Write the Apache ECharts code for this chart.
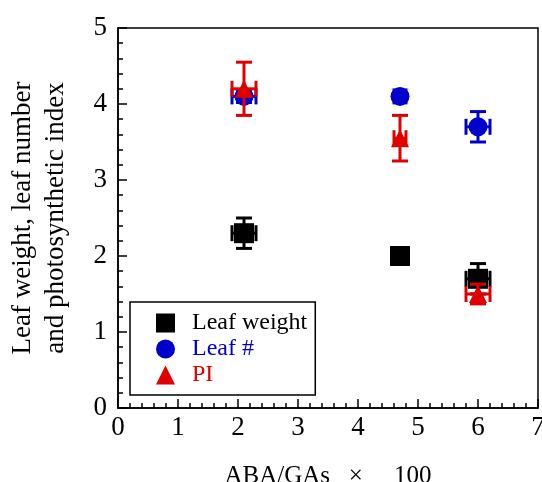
<!DOCTYPE html>
<html>
<head>
<meta charset="utf-8">
<script src="https://cdn.jsdelivr.net/npm/echarts@6/dist/echarts.min.js"></script>
<style>
  html, body { margin: 0; padding: 0; background: #fff; }
  #chart { width: 542px; height: 482px; }
</style>
</head>
<body>
<div id="chart"></div>
<script>
// x positions (ABA/GAs x 100)
const xVals = [2.1, 4.7, 6.0]

// Leaf weight
const leafWeight = [2.3, 2.0, 1.7]
const leafWeightYErr = [0.2, 0, 0.2]
const leafWeightXErr = [0.2, 0, 0.2]

// Leaf #
const leafNumber = [4.1, 4.1, 3.7]
const leafNumberYErr = [0.08, 0, 0.2]
const leafNumberXErr = [0.2, 0.1, 0.2]

// PI
const photoIndex = [4.2, 3.55, 1.5]
const photoIndexYErr = [0.35, 0.3, 0.13]
const photoIndexXErr = [0.2, 0.1, 0.2]

const serif = 'Liberation Serif, DejaVu Serif, serif'
const BLACK = '#000000'
const BLUE = '#0000cc'
const RED = '#e00000'

function points (ys) {
  return xVals.map((x, i) => [x, ys[i]])
}

function errPoints (ys, xe, ye) {
  return xVals.map((x, i) => [x, ys[i], xe[i], ye[i]])
}

// draws x and y error bars with caps
function errorRender (color) {
  return function (params, api) {
    const x = api.value(0)
    const y = api.value(1)
    const xe = api.value(2)
    const ye = api.value(3)
    const children = []
    const cap = 8
    const style = { stroke: color, lineWidth: 3 }
    if (ye > 0) {
      const top = api.coord([x, y + ye])
      const bot = api.coord([x, y - ye])
      children.push({ type: 'line', shape: { x1: top[0], y1: top[1], x2: bot[0], y2: bot[1] }, style })
      children.push({ type: 'line', shape: { x1: top[0] - cap, y1: top[1], x2: top[0] + cap, y2: top[1] }, style })
      children.push({ type: 'line', shape: { x1: bot[0] - cap, y1: bot[1], x2: bot[0] + cap, y2: bot[1] }, style })
    }
    if (xe > 0) {
      const l = api.coord([x - xe, y])
      const r = api.coord([x + xe, y])
      children.push({ type: 'line', shape: { x1: l[0], y1: l[1], x2: r[0], y2: r[1] }, style })
      children.push({ type: 'line', shape: { x1: l[0], y1: l[1] - cap, x2: l[0], y2: l[1] + cap }, style })
      children.push({ type: 'line', shape: { x1: r[0], y1: r[1] - cap, x2: r[0], y2: r[1] + cap }, style })
    }
    return { type: 'group', children }
  }
}

const chart = echarts.init(document.getElementById('chart'))

const option = {
  animation: false,
  backgroundColor: '#fff',
  grid: {
    left: 118,
    right: 4,
    top: 28,
    bottom: 74,
    outerBoundsMode: 'none',
    show: true,
    borderColor: '#000',
    borderWidth: 1.5
  },
  legend: {
    orient: 'vertical',
    left: 130,
    top: 302,
    padding: [9, 8, 8, 26],
    itemGap: 2,
    itemWidth: 19,
    itemHeight: 19,
    borderColor: '#000',
    borderWidth: 1.5,
    backgroundColor: '#fff',
    textStyle: { fontFamily: serif, fontSize: 24, padding: [0, 0, 0, 12] },
    data: [
      { name: 'Leaf weight', icon: 'rect', itemStyle: { color: BLACK, opacity: 1 }, textStyle: { color: BLACK } },
      { name: 'Leaf #', icon: 'circle', itemStyle: { color: BLUE, opacity: 1 }, textStyle: { color: BLUE } },
      { name: 'PI', icon: 'triangle', itemStyle: { color: RED, opacity: 1 }, textStyle: { color: RED } }
    ]
  },
  xAxis: {
    type: 'value',
    min: 0,
    max: 7,
    interval: 1,
    name: 'ABA/GAs   ×     100',
    nameLocation: 'middle',
    nameGap: 56,
    nameTextStyle: { fontFamily: serif, fontSize: 25, color: '#000' },
    axisLine: { lineStyle: { color: '#000', width: 1.5 } },
    axisTick: { inside: true, length: 9, lineStyle: { color: '#000', width: 1.5 } },
    minorTick: { show: true, splitNumber: 5, length: 5, lineStyle: { color: '#000', width: 1.5 } },
    axisLabel: { fontFamily: serif, fontSize: 27, color: '#000', margin: 6 },
    splitLine: { show: false }
  },
  yAxis: {
    type: 'value',
    min: 0,
    max: 5,
    interval: 1,
    name: 'Leaf weight, leaf number\nand photosynthetic index',
    nameLocation: 'middle',
    nameRotate: 90,
    nameGap: 46,
    nameTextStyle: { fontFamily: serif, fontSize: 27, color: '#000', lineHeight: 33 },
    axisLine: { lineStyle: { color: '#000', width: 1.5 } },
    axisTick: { inside: true, length: 9, lineStyle: { color: '#000', width: 1.5 } },
    minorTick: { show: true, splitNumber: 5, length: 5, lineStyle: { color: '#000', width: 1.5 } },
    axisLabel: { fontFamily: serif, fontSize: 27, color: '#000', margin: 11 },
    splitLine: { show: false }
  },
  series: [
    {
      name: 'Leaf # err',
      type: 'custom',
      renderItem: errorRender(BLUE),
      data: errPoints(leafNumber, leafNumberXErr, leafNumberYErr),
      z: 2
    },
    {
      name: 'Leaf #',
      type: 'scatter',
      symbol: 'circle',
      symbolSize: 19,
      itemStyle: { color: BLUE, opacity: 1 },
      data: points(leafNumber),
      z: 3
    },
    {
      name: 'Leaf weight err',
      type: 'custom',
      renderItem: errorRender(BLACK),
      data: errPoints(leafWeight, leafWeightXErr, leafWeightYErr),
      z: 4
    },
    {
      name: 'Leaf weight',
      type: 'scatter',
      symbol: 'rect',
      symbolSize: 20,
      itemStyle: { color: BLACK, opacity: 1 },
      data: points(leafWeight),
      z: 5
    },
    {
      name: 'PI err',
      type: 'custom',
      renderItem: errorRender(RED),
      data: errPoints(photoIndex, photoIndexXErr, photoIndexYErr),
      z: 6
    },
    {
      name: 'PI',
      type: 'scatter',
      symbol: 'triangle',
      symbolSize: 18,
      itemStyle: { color: RED, opacity: 1 },
      data: points(photoIndex),
      z: 7
    }
  ]
}

chart.setOption(option)
</script>
</body>
</html>
